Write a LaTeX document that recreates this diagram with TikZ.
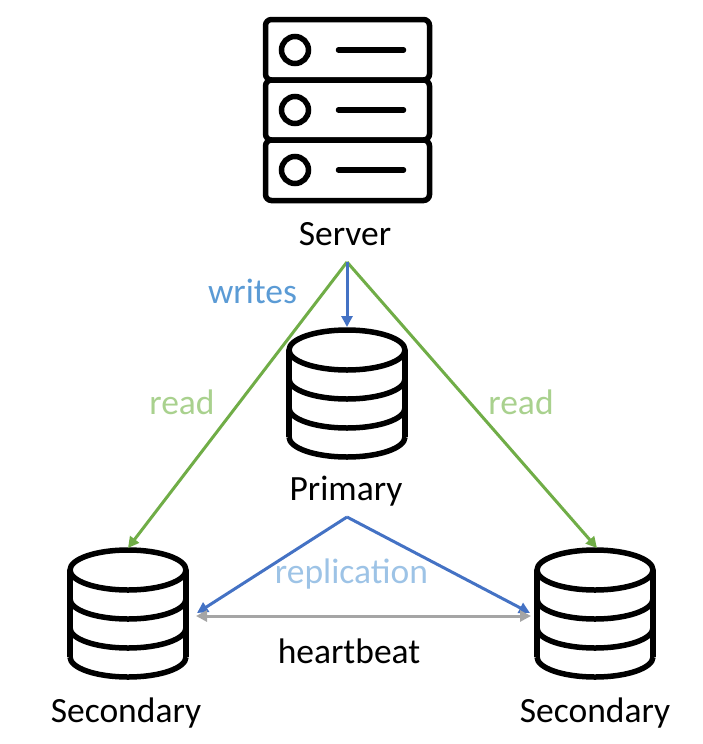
\documentclass[tikz,border=0pt]{standalone}
\usepackage{fontspec}
\setmainfont{Carlito}
\usetikzlibrary{arrows.meta}
\definecolor{rdgreen}{HTML}{70AD47}
\definecolor{rdlabel}{HTML}{A9D18E}
\definecolor{wrblue}{HTML}{4472C4}
\definecolor{wrlabel}{HTML}{5B9BD5}
\definecolor{replabel}{HTML}{9DC3E6}
\definecolor{hbgrey}{HTML}{A5A5A5}
\tikzset{
  lbl/.style={inner sep=0pt, font=\fontsize{35.5}{40}\selectfont},
  link/.style={line width=3pt, -{Triangle[length=11pt,width=11pt]}},
  icon/.style={line width=5.5pt, black},
  dbstack/.pic={
    \draw[icon] (0,0) ellipse (58 and 20);
    \draw[icon] (-58,0) -- (-58,87);
    \draw[icon] (58,0) -- (58,87);
    \draw[icon] (-58,29) arc (180:0:58 and 20);
    \draw[icon] (-58,58) arc (180:0:58 and 20);
    \draw[icon] (-58,87) arc (180:0:58 and 20);
  }
}
\begin{document}
\begin{tikzpicture}[x=1pt, y=-1pt]
  \useasboundingbox (0,0) rectangle (702,744);
  % server rack
  \foreach \rowy in {50,110,170} {
    \draw[icon] (295,\rowy) circle (13.5);
    \draw[icon, line cap=round] (338.5,\rowy) -- (403.5,\rowy);
  }
  \draw[icon, rounded corners=6pt] (265.5,19.5) rectangle (429.5,80);
  \draw[icon, rounded corners=6pt] (265.5,80) rectangle (429.5,140);
  \draw[icon, rounded corners=6pt] (265.5,140) rectangle (429.5,200.5);
  % databases
  \pic at (347,350) {dbstack};
  \pic at (128,570) {dbstack};
  \pic at (595,570) {dbstack};
  % labels
  \node[lbl] (server) at (345,234) {Server};
  \node[lbl] (primary) at (346,491) {Primary};
  \node[lbl] (secleft) at (126,713) {Secondary};
  \node[lbl] (secright) at (595,713) {Secondary};
  \node[lbl, text=wrlabel] (writes) at (252.5,291) {writes};
  \node[lbl, text=rdlabel] (readleft) at (182,402) {read};
  \node[lbl, text=rdlabel] (readright) at (521,402) {read};
  \node[lbl, text=replabel] (replication) at (351.5,574) {replication};
  \node[lbl] (heartbeat) at (349,651) {heartbeat};
  % connector ends
  \coordinate (srvfoot) at (347,262);
  \coordinate (pritop) at (347,327);
  \coordinate (leftop) at (128,548);
  \coordinate (rightop) at (597,548);
  \coordinate (prifoot) at (347,517);
  \coordinate (leftside) at (197,613);
  \coordinate (rightside) at (530,613);
  \coordinate (hbleft) at (196,616);
  \coordinate (hbright) at (531,616);
  % connectors
  \draw[link, rdgreen] (srvfoot) -- (leftop);
  \draw[link, rdgreen] (srvfoot) -- (rightop);
  \draw[link, wrblue] (srvfoot) -- (pritop);
  \draw[link, wrblue] (prifoot) -- (leftside);
  \draw[link, wrblue] (prifoot) -- (rightside);
  \draw[line width=3pt, hbgrey, {Triangle[length=11pt,width=11pt]}-{Triangle[length=11pt,width=11pt]}] (hbleft) -- (hbright);
\end{tikzpicture}
\end{document}
